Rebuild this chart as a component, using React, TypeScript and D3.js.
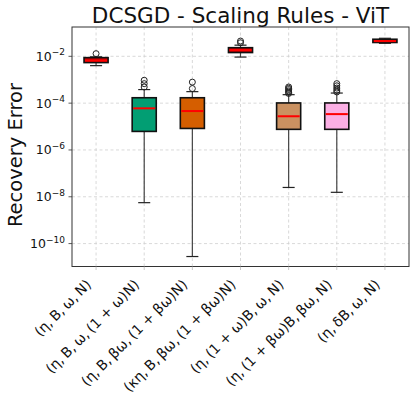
import React from 'react';
import * as d3 from 'd3';

// scaling rule configurations (x categories)
const labels = [
  '(η,\u2009B,\u2009ω,\u2009N)',
  '(η,\u2009B,\u2009ω,\u2009(1 + ω)N)',
  '(η,\u2009B,\u2009βω,\u2009(1 + βω)N)',
  '(κη,\u2009B,\u2009βω,\u2009(1 + βω)N)',
  '(η,\u2009(1 + ω)B,\u2009ω,\u2009N)',
  '(η,\u2009(1 + βω)B,\u2009βω,\u2009N)',
  '(η,\u2009δB,\u2009ω,\u2009N)',
];
const fills = ['#c40000', '#029e73', '#d55e00', '#c40000', '#ca9161', '#fbafe4', '#c40000'];

// box statistics
const whisLo = [0.0040, 5.6e-9, 2.8e-11, 0.0093, 2.5e-8, 1.55e-8, 0.036];
const q1 = [0.0054, 6.2e-6, 8.3e-6, 0.0145, 7.6e-6, 7.6e-6, 0.039];
const med = [0.0066, 6.0e-5, 4.6e-5, 0.0186, 2.75e-5, 3.4e-5, 0.0447];
const q3 = [0.0088, 1.7e-4, 1.7e-4, 0.0234, 1.02e-4, 1.02e-4, 0.0537];
const whisHi = [0.0095, 3.8e-4, 3.1e-4, 0.030, 2.3e-4, 2.7e-4, 0.059];
const fliers = [
  [0.013],
  [4.9e-4, 6.8e-4, 9.5e-4],
  [4.2e-4, 7.9e-4],
  [0.038, 0.045],
  [2.6e-4, 2.9e-4, 3.3e-4, 3.8e-4, 4.3e-4, 4.9e-4],
  [3.0e-4, 3.6e-4, 4.4e-4, 5.5e-4, 6.8e-4],
  [],
];
const yTicks = [-10, -8, -6, -4, -2];

const W = 416, H = 394;
const left = 72, right = 409, top = 27, bottom = 266.5;
const font = 'DejaVu Sans, sans-serif';

export default function App() {
  const x = d3.scaleLinear().domain([0.5, labels.length + 0.5]).range([left, right]);
  const y = d3.scaleLog().domain([1.05e-11, 0.179]).range([bottom, top]);
  const bw = (x(1) - x(0)) * 0.5;

  return (
    <svg width={W} height={H} style={{ position: 'absolute', left: 0, top: 0 }} fontFamily={font}>
      <rect width={W} height={H} fill="#fff" />
      {/* grid */}
      {yTicks.map(t => (
        <line key={'gy' + t} x1={left} x2={right} y1={y(Math.pow(10, t))} y2={y(Math.pow(10, t))}
          stroke="#cfcfcf" strokeWidth={0.8} strokeDasharray="3,2.5" />
      ))}
      {labels.map((l, i) => (
        <line key={'gx' + i} x1={x(i + 1)} x2={x(i + 1)} y1={top} y2={bottom}
          stroke="#cfcfcf" strokeWidth={0.8} strokeDasharray="3,2.5" />
      ))}
      {/* boxes */}
      {labels.map((l, i) => {
        const cx = x(i + 1);
        return (
          <g key={'b' + i}>
            <line x1={cx} x2={cx} y1={y(whisLo[i])} y2={y(q1[i])} stroke="#444" strokeWidth={1.2} />
            <line x1={cx} x2={cx} y1={y(q3[i])} y2={y(whisHi[i])} stroke="#444" strokeWidth={1.2} />
            <line x1={cx - bw / 4} x2={cx + bw / 4} y1={y(whisLo[i])} y2={y(whisLo[i])} stroke="#222" strokeWidth={1.2} />
            <line x1={cx - bw / 4} x2={cx + bw / 4} y1={y(whisHi[i])} y2={y(whisHi[i])} stroke="#222" strokeWidth={1.2} />
            <rect x={cx - bw / 2} y={y(q3[i])} width={bw} height={y(q1[i]) - y(q3[i])}
              fill={fills[i]} stroke="#111" strokeWidth={1.6} />
            <line x1={cx - bw / 2 + 1} x2={cx + bw / 2 - 1} y1={y(med[i])} y2={y(med[i])} stroke="#ff0000" strokeWidth={2} />
            {fliers[i].map((f, j) => (
              <circle key={j} cx={cx} cy={y(f)} r={3} fill="none" stroke="#222" strokeWidth={1} />
            ))}
          </g>
        );
      })}
      {/* frame */}
      <rect x={left} y={top} width={right - left} height={bottom - top} fill="none" stroke="#333" strokeWidth={1} />
      {/* y ticks */}
      {yTicks.map(t => (
        <g key={'ty' + t}>
          <line x1={left - 3.5} x2={left} y1={y(Math.pow(10, t))} y2={y(Math.pow(10, t))} stroke="#333" strokeWidth={0.8} />
          <text x={left - 7} y={y(Math.pow(10, t)) + 4.5} textAnchor="end" fontSize={12.5} fill="#111">
            10<tspan fontSize={9} dy={-5.5}>{'−' + Math.abs(t)}</tspan>
          </text>
        </g>
      ))}
      {/* x ticks */}
      {labels.map((l, i) => (
        <g key={'tx' + i}>
          <line x1={x(i + 1)} x2={x(i + 1)} y1={bottom} y2={bottom + 3.5} stroke="#bbb" strokeWidth={0.8} />
          <text transform={`translate(${x(i + 1) - 4},${bottom + 19}) rotate(-45)`} textAnchor="end"
            fontSize={14} fill="#111">{l}</text>
        </g>
      ))}
      <text transform={`translate(21.5,155) rotate(-90)`} textAnchor="middle" fontSize={19.5} fill="#111">
        Recovery Error
      </text>
      <text x={(left + right) / 2} y={23} textAnchor="middle" fontSize={21.5} fill="#111">
        DCSGD - Scaling Rules - ViT
      </text>
    </svg>
  );
}
